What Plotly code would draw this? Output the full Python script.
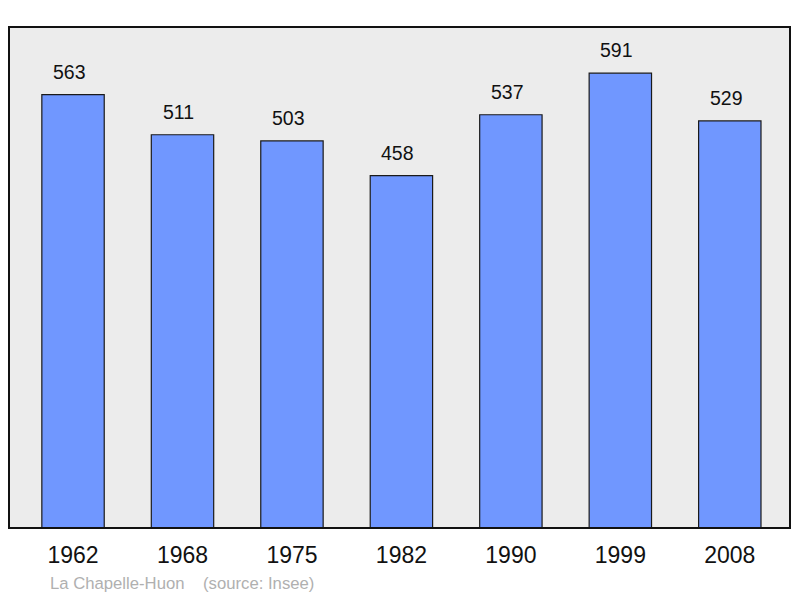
import plotly.graph_objects as go

years = ["1962", "1968", "1975", "1982", "1990", "1999", "2008"]
population = [563, 511, 503, 458, 537, 591, 529]
footer = "La Chapelle-Huon    (source: Insee)"

# page body has an 8px margin; target plot box in window coords: x 9..790, y 27..528
OFF = 8
W, H = 800 - OFF, 598 - OFF
L, R, T, B = 9 - OFF, 10, 27 - OFF, 70
PW, PH = W - L - R, H - T - B

FONT = "Liberation Sans, Arial, sans-serif"

fig = go.Figure()
fig.add_trace(go.Bar(
    x=list(range(len(years))), y=population,
    width=0.57,
    marker=dict(color="#7097ff", line=dict(color="#1a1a1a", width=1.2)),
    hoverinfo="skip",
))

for i, v in enumerate(population):
    fig.add_annotation(x=i, y=v, text=str(v), showarrow=False,
                       yanchor="bottom", yshift=10, xshift=-3.5,
                       font=dict(size=19.5, color="#111111", family=FONT))

fig.add_annotation(xref="paper", yref="paper", x=(48 - 9) / PW, y=-(583 - 528) / PH,
                   xanchor="left", yanchor="middle", text=footer, showarrow=False,
                   font=dict(size=16.7, color="#b0b0b0", family=FONT))

fig.add_shape(type="rect", xref="paper", yref="paper", x0=0, y0=0, x1=1, y1=1,
              line=dict(color="#111111", width=2), fillcolor="rgba(0,0,0,0)", layer="above")

fig.update_layout(
    width=W, height=H,
    margin=dict(l=L, r=R, t=T, b=B),
    paper_bgcolor="white", plot_bgcolor="#ececec",
    showlegend=False,
    font=dict(family=FONT),
    xaxis=dict(range=[-0.585, 6.55], tickmode="array", tickvals=list(range(len(years))),
               ticktext=years, showgrid=False, zeroline=False, ticks="outside",
               ticklen=6, tickcolor="rgba(0,0,0,0)",
               tickfont=dict(size=23, color="#111111"), fixedrange=True),
    yaxis=dict(range=[0, 651], showgrid=False, zeroline=False, showticklabels=False,
               fixedrange=True),
)

fig.write_html("out.html")
